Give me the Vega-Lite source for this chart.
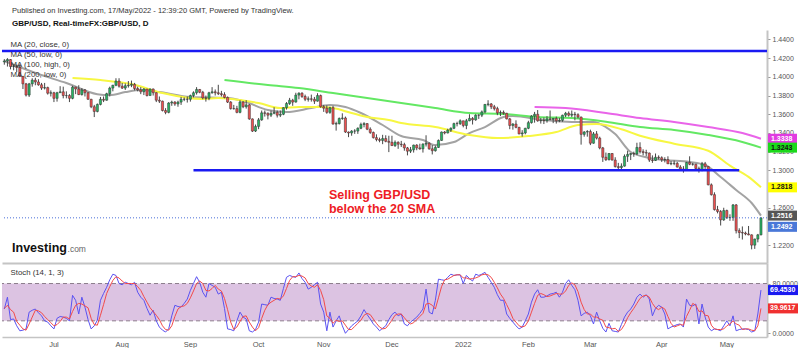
{
"$schema": "https://vega.github.io/schema/vega-lite/v6.json",
"padding": {"top": 6, "left": 0, "right": 0, "bottom": 0},
"background": "white",
"title": {"text": "Published on Investing.com, 17/May/2022 - 12:39:20 GMT, Powered by TradingView.", "subtitle": "GBP/USD, Real-timeFX:GBP/USD, D", "anchor": "start", "frame": "group", "dx": 10, "font": "Liberation Sans", "fontSize": 7.5, "fontWeight": "normal", "color": "#333", "subtitleFont": "Liberation Sans", "subtitleFontSize": 8, "subtitleFontWeight": "bold", "subtitleColor": "#111", "subtitlePadding": 6, "offset": 2},
"config": {"view": {"stroke": null}, "axis": {"labelFont": "Liberation Sans", "labelFontSize": 7, "labelColor": "#555", "grid": false, "title": null, "labelOverlap": false, "labelSeparation": 0, "labelBound": false}, "axisY": {"labelOverlap": false}, "axisQuantitative": {"labelOverlap": false}, "text": {"font": "Liberation Sans"}},
"spacing": 0,
"datasets": {
"px": [
{"d":"2021-06-09","o":1.416,"h":1.419,"l":1.413,"c":1.417,"k":39,"s":40},
{"d":"2021-06-10","o":1.417,"h":1.42,"l":1.411,"c":1.4185,"k":58,"s":45},
{"d":"2021-06-11","o":1.4185,"h":1.419,"l":1.408,"c":1.411,"k":22,"s":38},
{"d":"2021-06-14","o":1.411,"h":1.4135,"l":1.407,"c":1.411,"k":23,"s":34},
{"d":"2021-06-15","o":1.411,"h":1.413,"l":1.405,"c":1.41,"k":12,"s":19},
{"d":"2021-06-16","o":1.41,"h":1.4135,"l":1.4,"c":1.4005,"k":4,"s":13},
{"d":"2021-06-17","o":1.4005,"h":1.401,"l":1.387,"c":1.3925,"k":5,"s":7},
{"d":"2021-06-18","o":1.3925,"h":1.3935,"l":1.379,"c":1.3805,"k":7,"s":5},
{"d":"2021-06-21","o":1.3805,"h":1.3935,"l":1.3785,"c":1.3925,"k":34,"s":15},
{"d":"2021-06-22","o":1.3925,"h":1.3985,"l":1.3895,"c":1.3965,"k":37,"s":26},
{"d":"2021-06-23","o":1.3965,"h":1.399,"l":1.391,"c":1.3945,"k":39,"s":37},
{"d":"2021-06-24","o":1.3945,"h":1.3975,"l":1.3905,"c":1.3915,"k":33,"s":36},
{"d":"2021-06-25","o":1.3915,"h":1.3935,"l":1.386,"c":1.388,"k":28,"s":33},
{"d":"2021-06-28","o":1.388,"h":1.3935,"l":1.3865,"c":1.3885,"k":20,"s":27},
{"d":"2021-06-29","o":1.3885,"h":1.3895,"l":1.381,"c":1.3825,"k":18,"s":22},
{"d":"2021-06-30","o":1.3825,"h":1.3855,"l":1.379,"c":1.383,"k":12,"s":17},
{"d":"2021-07-01","o":1.383,"h":1.384,"l":1.373,"c":1.377,"k":7,"s":12},
{"d":"2021-07-02","o":1.377,"h":1.384,"l":1.3735,"c":1.383,"k":24,"s":14},
{"d":"2021-07-05","o":1.383,"h":1.39,"l":1.383,"c":1.384,"k":27,"s":19},
{"d":"2021-07-06","o":1.384,"h":1.3895,"l":1.377,"c":1.38,"k":26,"s":26},
{"d":"2021-07-07","o":1.38,"h":1.3845,"l":1.377,"c":1.38,"k":24,"s":26},
{"d":"2021-07-08","o":1.38,"h":1.3815,"l":1.373,"c":1.377,"k":20,"s":23},
{"d":"2021-07-09","o":1.377,"h":1.3905,"l":1.376,"c":1.389,"k":61,"s":35},
{"d":"2021-07-12","o":1.389,"h":1.3895,"l":1.3815,"c":1.387,"k":53,"s":45},
{"d":"2021-07-13","o":1.387,"h":1.391,"l":1.3805,"c":1.381,"k":31,"s":48},
{"d":"2021-07-14","o":1.381,"h":1.388,"l":1.38,"c":1.386,"k":58,"s":47},
{"d":"2021-07-15","o":1.386,"h":1.387,"l":1.379,"c":1.383,"k":42,"s":44},
{"d":"2021-07-16","o":1.383,"h":1.3835,"l":1.3755,"c":1.376,"k":22,"s":41},
{"d":"2021-07-19","o":1.376,"h":1.3765,"l":1.3665,"c":1.368,"k":7,"s":24},
{"d":"2021-07-20","o":1.368,"h":1.37,"l":1.357,"c":1.363,"k":12,"s":14},
{"d":"2021-07-21","o":1.363,"h":1.3715,"l":1.362,"c":1.3705,"k":21,"s":13},
{"d":"2021-07-22","o":1.3705,"h":1.3785,"l":1.3695,"c":1.376,"k":53,"s":29},
{"d":"2021-07-23","o":1.376,"h":1.379,"l":1.373,"c":1.375,"k":64,"s":46},
{"d":"2021-07-26","o":1.375,"h":1.383,"l":1.3745,"c":1.382,"k":74,"s":64},
{"d":"2021-07-27","o":1.382,"h":1.3895,"l":1.379,"c":1.388,"k":86,"s":75},
{"d":"2021-07-28","o":1.388,"h":1.3915,"l":1.3845,"c":1.391,"k":95,"s":85},
{"d":"2021-07-29","o":1.391,"h":1.3985,"l":1.39,"c":1.3955,"k":93,"s":91},
{"d":"2021-07-30","o":1.3955,"h":1.3985,"l":1.3885,"c":1.39,"k":80,"s":89},
{"d":"2021-08-02","o":1.39,"h":1.3935,"l":1.387,"c":1.388,"k":78,"s":84},
{"d":"2021-08-03","o":1.388,"h":1.393,"l":1.386,"c":1.3905,"k":82,"s":80},
{"d":"2021-08-04","o":1.3905,"h":1.3955,"l":1.3885,"c":1.391,"k":80,"s":80},
{"d":"2021-08-05","o":1.391,"h":1.396,"l":1.389,"c":1.392,"k":78,"s":80},
{"d":"2021-08-06","o":1.392,"h":1.3935,"l":1.3855,"c":1.3875,"k":82,"s":80},
{"d":"2021-08-09","o":1.3875,"h":1.3895,"l":1.3845,"c":1.386,"k":66,"s":75},
{"d":"2021-08-10","o":1.386,"h":1.389,"l":1.3815,"c":1.384,"k":58,"s":69},
{"d":"2021-08-11","o":1.384,"h":1.388,"l":1.3805,"c":1.387,"k":53,"s":59},
{"d":"2021-08-12","o":1.387,"h":1.387,"l":1.379,"c":1.38,"k":40,"s":50},
{"d":"2021-08-13","o":1.38,"h":1.3875,"l":1.38,"c":1.387,"k":29,"s":41},
{"d":"2021-08-16","o":1.387,"h":1.3875,"l":1.38,"c":1.383,"k":37,"s":35},
{"d":"2021-08-17","o":1.383,"h":1.3835,"l":1.373,"c":1.375,"k":20,"s":29},
{"d":"2021-08-18","o":1.375,"h":1.379,"l":1.372,"c":1.374,"k":10,"s":22},
{"d":"2021-08-19","o":1.374,"h":1.3745,"l":1.363,"c":1.364,"k":5,"s":12},
{"d":"2021-08-20","o":1.364,"h":1.3665,"l":1.36,"c":1.362,"k":2,"s":6},
{"d":"2021-08-23","o":1.362,"h":1.373,"l":1.361,"c":1.372,"k":7,"s":5},
{"d":"2021-08-24","o":1.372,"h":1.3745,"l":1.369,"c":1.373,"k":28,"s":12},
{"d":"2021-08-25","o":1.373,"h":1.374,"l":1.369,"c":1.371,"k":45,"s":27},
{"d":"2021-08-26","o":1.371,"h":1.3745,"l":1.368,"c":1.373,"k":43,"s":39},
{"d":"2021-08-27","o":1.373,"h":1.3785,"l":1.37,"c":1.376,"k":42,"s":43},
{"d":"2021-08-30","o":1.376,"h":1.378,"l":1.374,"c":1.376,"k":48,"s":44},
{"d":"2021-08-31","o":1.376,"h":1.379,"l":1.3725,"c":1.376,"k":55,"s":48},
{"d":"2021-09-01","o":1.376,"h":1.381,"l":1.3735,"c":1.38,"k":69,"s":57},
{"d":"2021-09-02","o":1.38,"h":1.3845,"l":1.378,"c":1.383,"k":80,"s":68},
{"d":"2021-09-03","o":1.383,"h":1.389,"l":1.381,"c":1.3865,"k":91,"s":80},
{"d":"2021-09-06","o":1.3865,"h":1.387,"l":1.3825,"c":1.3835,"k":82,"s":84},
{"d":"2021-09-07","o":1.3835,"h":1.385,"l":1.376,"c":1.3775,"k":66,"s":80},
{"d":"2021-09-08","o":1.3775,"h":1.38,"l":1.3735,"c":1.377,"k":58,"s":69},
{"d":"2021-09-09","o":1.377,"h":1.384,"l":1.375,"c":1.383,"k":80,"s":68},
{"d":"2021-09-10","o":1.383,"h":1.389,"l":1.382,"c":1.384,"k":77,"s":72},
{"d":"2021-09-13","o":1.384,"h":1.3865,"l":1.38,"c":1.383,"k":74,"s":77},
{"d":"2021-09-14","o":1.383,"h":1.3915,"l":1.3805,"c":1.382,"k":63,"s":71},
{"d":"2021-09-15","o":1.382,"h":1.385,"l":1.379,"c":1.381,"k":66,"s":68},
{"d":"2021-09-16","o":1.381,"h":1.3835,"l":1.377,"c":1.378,"k":40,"s":56},
{"d":"2021-09-17","o":1.378,"h":1.379,"l":1.372,"c":1.373,"k":7,"s":38},
{"d":"2021-09-20","o":1.373,"h":1.374,"l":1.365,"c":1.366,"k":6,"s":18},
{"d":"2021-09-21","o":1.366,"h":1.37,"l":1.365,"c":1.366,"k":4,"s":6},
{"d":"2021-09-22","o":1.366,"h":1.369,"l":1.361,"c":1.362,"k":20,"s":10},
{"d":"2021-09-23","o":1.362,"h":1.375,"l":1.361,"c":1.373,"k":34,"s":19},
{"d":"2021-09-24","o":1.373,"h":1.374,"l":1.3665,"c":1.368,"k":26,"s":27},
{"d":"2021-09-27","o":1.368,"h":1.375,"l":1.366,"c":1.37,"k":23,"s":28},
{"d":"2021-09-28","o":1.37,"h":1.371,"l":1.354,"c":1.355,"k":4,"s":18},
{"d":"2021-09-29","o":1.355,"h":1.3555,"l":1.341,"c":1.342,"k":2,"s":10},
{"d":"2021-09-30","o":1.342,"h":1.349,"l":1.341,"c":1.347,"k":6,"s":4},
{"d":"2021-10-01","o":1.347,"h":1.356,"l":1.344,"c":1.354,"k":18,"s":9},
{"d":"2021-10-04","o":1.354,"h":1.364,"l":1.353,"c":1.3615,"k":47,"s":24},
{"d":"2021-10-05","o":1.3615,"h":1.364,"l":1.3575,"c":1.361,"k":46,"s":37},
{"d":"2021-10-06","o":1.361,"h":1.362,"l":1.3545,"c":1.359,"k":45,"s":46},
{"d":"2021-10-07","o":1.359,"h":1.364,"l":1.357,"c":1.361,"k":58,"s":50},
{"d":"2021-10-08","o":1.361,"h":1.3675,"l":1.36,"c":1.362,"k":56,"s":53},
{"d":"2021-10-11","o":1.362,"h":1.364,"l":1.3565,"c":1.359,"k":55,"s":56},
{"d":"2021-10-12","o":1.359,"h":1.364,"l":1.357,"c":1.36,"k":53,"s":55},
{"d":"2021-10-13","o":1.36,"h":1.3675,"l":1.359,"c":1.367,"k":72,"s":60},
{"d":"2021-10-14","o":1.367,"h":1.373,"l":1.365,"c":1.3715,"k":90,"s":72},
{"d":"2021-10-15","o":1.3715,"h":1.3775,"l":1.37,"c":1.375,"k":93,"s":85},
{"d":"2021-10-18","o":1.375,"h":1.3765,"l":1.369,"c":1.373,"k":91,"s":91},
{"d":"2021-10-19","o":1.373,"h":1.383,"l":1.3725,"c":1.3805,"k":90,"s":91},
{"d":"2021-10-20","o":1.3805,"h":1.3835,"l":1.376,"c":1.3825,"k":97,"s":93},
{"d":"2021-10-21","o":1.3825,"h":1.3835,"l":1.3775,"c":1.379,"k":88,"s":92},
{"d":"2021-10-22","o":1.379,"h":1.381,"l":1.374,"c":1.376,"k":82,"s":89},
{"d":"2021-10-25","o":1.376,"h":1.379,"l":1.3735,"c":1.3765,"k":71,"s":80},
{"d":"2021-10-26","o":1.3765,"h":1.381,"l":1.3735,"c":1.376,"k":74,"s":76},
{"d":"2021-10-27","o":1.376,"h":1.3785,"l":1.371,"c":1.374,"k":78,"s":74},
{"d":"2021-10-28","o":1.374,"h":1.3825,"l":1.3735,"c":1.38,"k":82,"s":78},
{"d":"2021-10-29","o":1.38,"h":1.381,"l":1.367,"c":1.368,"k":47,"s":69},
{"d":"2021-11-01","o":1.368,"h":1.37,"l":1.3625,"c":1.3665,"k":34,"s":54},
{"d":"2021-11-02","o":1.3665,"h":1.3695,"l":1.3605,"c":1.362,"k":4,"s":28},
{"d":"2021-11-03","o":1.362,"h":1.368,"l":1.3605,"c":1.367,"k":34,"s":24},
{"d":"2021-11-04","o":1.367,"h":1.369,"l":1.349,"c":1.3495,"k":10,"s":16},
{"d":"2021-11-05","o":1.3495,"h":1.352,"l":1.3425,"c":1.35,"k":20,"s":21},
{"d":"2021-11-08","o":1.35,"h":1.3565,"l":1.349,"c":1.3555,"k":28,"s":19},
{"d":"2021-11-09","o":1.3555,"h":1.361,"l":1.354,"c":1.356,"k":12,"s":20},
{"d":"2021-11-10","o":1.356,"h":1.3575,"l":1.34,"c":1.341,"k":0,"s":13},
{"d":"2021-11-11","o":1.341,"h":1.3415,"l":1.3355,"c":1.34,"k":6,"s":6},
{"d":"2021-11-12","o":1.34,"h":1.343,"l":1.337,"c":1.342,"k":12,"s":6},
{"d":"2021-11-15","o":1.342,"h":1.344,"l":1.339,"c":1.342,"k":16,"s":11},
{"d":"2021-11-16","o":1.342,"h":1.346,"l":1.339,"c":1.345,"k":20,"s":16},
{"d":"2021-11-17","o":1.345,"h":1.351,"l":1.344,"c":1.349,"k":28,"s":21},
{"d":"2021-11-18","o":1.349,"h":1.3515,"l":1.346,"c":1.35,"k":38,"s":29},
{"d":"2021-11-19","o":1.35,"h":1.3505,"l":1.343,"c":1.344,"k":30,"s":32},
{"d":"2021-11-22","o":1.344,"h":1.346,"l":1.339,"c":1.3405,"k":23,"s":30},
{"d":"2021-11-23","o":1.3405,"h":1.3415,"l":1.334,"c":1.335,"k":15,"s":23},
{"d":"2021-11-24","o":1.335,"h":1.3385,"l":1.331,"c":1.333,"k":10,"s":16},
{"d":"2021-11-25","o":1.333,"h":1.335,"l":1.33,"c":1.332,"k":4,"s":10},
{"d":"2021-11-26","o":1.332,"h":1.338,"l":1.328,"c":1.334,"k":8,"s":7},
{"d":"2021-11-29","o":1.334,"h":1.3375,"l":1.33,"c":1.331,"k":12,"s":8},
{"d":"2021-11-30","o":1.331,"h":1.337,"l":1.3195,"c":1.33,"k":22,"s":14},
{"d":"2021-12-01","o":1.33,"h":1.337,"l":1.326,"c":1.3265,"k":30,"s":21},
{"d":"2021-12-02","o":1.3265,"h":1.332,"l":1.325,"c":1.33,"k":34,"s":29},
{"d":"2021-12-03","o":1.33,"h":1.331,"l":1.323,"c":1.328,"k":28,"s":31},
{"d":"2021-12-06","o":1.328,"h":1.3315,"l":1.325,"c":1.3275,"k":31,"s":31},
{"d":"2021-12-07","o":1.3275,"h":1.3295,"l":1.321,"c":1.324,"k":15,"s":25},
{"d":"2021-12-08","o":1.324,"h":1.325,"l":1.316,"c":1.3205,"k":12,"s":19},
{"d":"2021-12-09","o":1.3205,"h":1.325,"l":1.3185,"c":1.322,"k":18,"s":15},
{"d":"2021-12-10","o":1.322,"h":1.3275,"l":1.319,"c":1.327,"k":22,"s":17},
{"d":"2021-12-13","o":1.327,"h":1.328,"l":1.3215,"c":1.324,"k":26,"s":22},
{"d":"2021-12-14","o":1.324,"h":1.3285,"l":1.322,"c":1.323,"k":32,"s":27},
{"d":"2021-12-15","o":1.323,"h":1.329,"l":1.319,"c":1.328,"k":39,"s":32},
{"d":"2021-12-16","o":1.328,"h":1.3375,"l":1.3255,"c":1.329,"k":71,"s":47},
{"d":"2021-12-17","o":1.329,"h":1.33,"l":1.322,"c":1.323,"k":34,"s":48},
{"d":"2021-12-20","o":1.323,"h":1.327,"l":1.317,"c":1.321,"k":31,"s":45},
{"d":"2021-12-21","o":1.321,"h":1.3265,"l":1.32,"c":1.3245,"k":53,"s":39},
{"d":"2021-12-22","o":1.3245,"h":1.333,"l":1.324,"c":1.332,"k":87,"s":57},
{"d":"2021-12-23","o":1.332,"h":1.3415,"l":1.3315,"c":1.341,"k":86,"s":75},
{"d":"2021-12-24","o":1.341,"h":1.342,"l":1.3385,"c":1.34,"k":85,"s":86},
{"d":"2021-12-27","o":1.34,"h":1.3445,"l":1.3395,"c":1.343,"k":90,"s":87},
{"d":"2021-12-28","o":1.343,"h":1.346,"l":1.341,"c":1.345,"k":95,"s":90},
{"d":"2021-12-29","o":1.345,"h":1.351,"l":1.344,"c":1.35,"k":93,"s":93},
{"d":"2021-12-30","o":1.35,"h":1.352,"l":1.347,"c":1.35,"k":94,"s":94},
{"d":"2021-12-31","o":1.35,"h":1.3545,"l":1.3485,"c":1.353,"k":94,"s":94},
{"d":"2022-01-03","o":1.353,"h":1.353,"l":1.346,"c":1.348,"k":80,"s":89},
{"d":"2022-01-04","o":1.348,"h":1.355,"l":1.344,"c":1.353,"k":93,"s":89},
{"d":"2022-01-05","o":1.353,"h":1.36,"l":1.3525,"c":1.3555,"k":88,"s":87},
{"d":"2022-01-06","o":1.3555,"h":1.357,"l":1.349,"c":1.354,"k":84,"s":88},
{"d":"2022-01-07","o":1.354,"h":1.36,"l":1.353,"c":1.359,"k":95,"s":89},
{"d":"2022-01-10","o":1.359,"h":1.36,"l":1.355,"c":1.359,"k":93,"s":91},
{"d":"2022-01-11","o":1.359,"h":1.364,"l":1.357,"c":1.3625,"k":95,"s":94},
{"d":"2022-01-12","o":1.3625,"h":1.371,"l":1.361,"c":1.3705,"k":98,"s":95},
{"d":"2022-01-13","o":1.3705,"h":1.375,"l":1.3685,"c":1.371,"k":90,"s":94},
{"d":"2022-01-14","o":1.371,"h":1.372,"l":1.3655,"c":1.368,"k":82,"s":90},
{"d":"2022-01-17","o":1.368,"h":1.37,"l":1.364,"c":1.366,"k":74,"s":82},
{"d":"2022-01-18","o":1.366,"h":1.368,"l":1.359,"c":1.3615,"k":62,"s":73},
{"d":"2022-01-19","o":1.3615,"h":1.364,"l":1.358,"c":1.362,"k":53,"s":63},
{"d":"2022-01-20","o":1.362,"h":1.364,"l":1.3595,"c":1.361,"k":53,"s":56},
{"d":"2022-01-21","o":1.361,"h":1.3615,"l":1.3545,"c":1.355,"k":31,"s":46},
{"d":"2022-01-24","o":1.355,"h":1.356,"l":1.344,"c":1.348,"k":24,"s":36},
{"d":"2022-01-25","o":1.348,"h":1.3505,"l":1.3435,"c":1.3495,"k":18,"s":24},
{"d":"2022-01-26","o":1.3495,"h":1.3535,"l":1.345,"c":1.346,"k":12,"s":18},
{"d":"2022-01-27","o":1.346,"h":1.3465,"l":1.3385,"c":1.339,"k":7,"s":12},
{"d":"2022-01-28","o":1.339,"h":1.343,"l":1.336,"c":1.34,"k":10,"s":10},
{"d":"2022-01-31","o":1.34,"h":1.3455,"l":1.3385,"c":1.345,"k":20,"s":12},
{"d":"2022-02-01","o":1.345,"h":1.353,"l":1.344,"c":1.351,"k":31,"s":20},
{"d":"2022-02-02","o":1.351,"h":1.359,"l":1.35,"c":1.358,"k":50,"s":34},
{"d":"2022-02-03","o":1.358,"h":1.3625,"l":1.351,"c":1.36,"k":63,"s":48},
{"d":"2022-02-04","o":1.36,"h":1.3645,"l":1.352,"c":1.353,"k":70,"s":61},
{"d":"2022-02-07","o":1.353,"h":1.356,"l":1.35,"c":1.3535,"k":58,"s":64},
{"d":"2022-02-08","o":1.3535,"h":1.3565,"l":1.3495,"c":1.353,"k":58,"s":62},
{"d":"2022-02-09","o":1.353,"h":1.358,"l":1.351,"c":1.355,"k":60,"s":59},
{"d":"2022-02-10","o":1.355,"h":1.364,"l":1.3535,"c":1.3545,"k":63,"s":60},
{"d":"2022-02-11","o":1.3545,"h":1.356,"l":1.3505,"c":1.3555,"k":64,"s":62},
{"d":"2022-02-14","o":1.3555,"h":1.3575,"l":1.35,"c":1.353,"k":66,"s":64},
{"d":"2022-02-15","o":1.353,"h":1.356,"l":1.3515,"c":1.3535,"k":58,"s":63},
{"d":"2022-02-16","o":1.3535,"h":1.3595,"l":1.352,"c":1.359,"k":66,"s":63},
{"d":"2022-02-17","o":1.359,"h":1.3625,"l":1.357,"c":1.361,"k":80,"s":68},
{"d":"2022-02-18","o":1.361,"h":1.363,"l":1.3575,"c":1.359,"k":86,"s":77},
{"d":"2022-02-21","o":1.359,"h":1.364,"l":1.357,"c":1.36,"k":77,"s":81},
{"d":"2022-02-22","o":1.36,"h":1.3625,"l":1.3535,"c":1.3595,"k":70,"s":78},
{"d":"2022-02-23","o":1.3595,"h":1.361,"l":1.3555,"c":1.357,"k":53,"s":67},
{"d":"2022-02-24","o":1.357,"h":1.3575,"l":1.3275,"c":1.3385,"k":28,"s":50},
{"d":"2022-02-25","o":1.3385,"h":1.342,"l":1.336,"c":1.341,"k":32,"s":38},
{"d":"2022-02-28","o":1.341,"h":1.343,"l":1.336,"c":1.3415,"k":34,"s":31},
{"d":"2022-03-01","o":1.3415,"h":1.3435,"l":1.327,"c":1.329,"k":28,"s":31},
{"d":"2022-03-02","o":1.329,"h":1.341,"l":1.3285,"c":1.339,"k":15,"s":26},
{"d":"2022-03-03","o":1.339,"h":1.342,"l":1.333,"c":1.3345,"k":34,"s":26},
{"d":"2022-03-04","o":1.3345,"h":1.336,"l":1.3225,"c":1.324,"k":20,"s":23},
{"d":"2022-03-07","o":1.324,"h":1.325,"l":1.309,"c":1.314,"k":8,"s":21},
{"d":"2022-03-08","o":1.314,"h":1.319,"l":1.31,"c":1.3115,"k":2,"s":10},
{"d":"2022-03-09","o":1.3115,"h":1.3185,"l":1.3105,"c":1.318,"k":16,"s":9},
{"d":"2022-03-10","o":1.318,"h":1.3185,"l":1.3105,"c":1.311,"k":4,"s":7},
{"d":"2022-03-11","o":1.311,"h":1.314,"l":1.303,"c":1.304,"k":3,"s":8},
{"d":"2022-03-14","o":1.304,"h":1.308,"l":1.3,"c":1.303,"k":2,"s":3},
{"d":"2022-03-15","o":1.303,"h":1.3075,"l":1.3,"c":1.3045,"k":14,"s":6},
{"d":"2022-03-16","o":1.3045,"h":1.317,"l":1.304,"c":1.315,"k":26,"s":14},
{"d":"2022-03-17","o":1.315,"h":1.321,"l":1.309,"c":1.317,"k":34,"s":25},
{"d":"2022-03-18","o":1.317,"h":1.3185,"l":1.311,"c":1.318,"k":39,"s":33},
{"d":"2022-03-21","o":1.318,"h":1.32,"l":1.3145,"c":1.3175,"k":47,"s":40},
{"d":"2022-03-22","o":1.3175,"h":1.3295,"l":1.3165,"c":1.3245,"k":58,"s":48},
{"d":"2022-03-23","o":1.3245,"h":1.33,"l":1.318,"c":1.32,"k":63,"s":56},
{"d":"2022-03-24","o":1.32,"h":1.3225,"l":1.316,"c":1.319,"k":58,"s":60},
{"d":"2022-03-25","o":1.319,"h":1.322,"l":1.315,"c":1.3185,"k":62,"s":61},
{"d":"2022-03-28","o":1.3185,"h":1.319,"l":1.309,"c":1.311,"k":55,"s":58},
{"d":"2022-03-29","o":1.311,"h":1.316,"l":1.308,"c":1.3105,"k":28,"s":48},
{"d":"2022-03-30","o":1.3105,"h":1.318,"l":1.31,"c":1.314,"k":40,"s":41},
{"d":"2022-03-31","o":1.314,"h":1.316,"l":1.3115,"c":1.3135,"k":45,"s":38},
{"d":"2022-04-01","o":1.3135,"h":1.315,"l":1.309,"c":1.3115,"k":42,"s":42},
{"d":"2022-04-04","o":1.3115,"h":1.314,"l":1.3085,"c":1.3115,"k":31,"s":39},
{"d":"2022-04-05","o":1.3115,"h":1.315,"l":1.307,"c":1.307,"k":7,"s":27},
{"d":"2022-04-06","o":1.307,"h":1.31,"l":1.3055,"c":1.3075,"k":10,"s":16},
{"d":"2022-04-07","o":1.3075,"h":1.3105,"l":1.3055,"c":1.3075,"k":12,"s":10},
{"d":"2022-04-08","o":1.3075,"h":1.309,"l":1.303,"c":1.3035,"k":14,"s":12},
{"d":"2022-04-11","o":1.3035,"h":1.3055,"l":1.3,"c":1.3015,"k":15,"s":14},
{"d":"2022-04-12","o":1.3015,"h":1.3045,"l":1.2975,"c":1.3005,"k":10,"s":13},
{"d":"2022-04-13","o":1.3005,"h":1.309,"l":1.3,"c":1.3085,"k":55,"s":27},
{"d":"2022-04-14","o":1.3085,"h":1.315,"l":1.3055,"c":1.3065,"k":45,"s":37},
{"d":"2022-04-15","o":1.3065,"h":1.308,"l":1.305,"c":1.3065,"k":44,"s":48},
{"d":"2022-04-18","o":1.3065,"h":1.307,"l":1.3005,"c":1.302,"k":47,"s":45},
{"d":"2022-04-19","o":1.302,"h":1.304,"l":1.2975,"c":1.3,"k":15,"s":35},
{"d":"2022-04-20","o":1.3,"h":1.309,"l":1.299,"c":1.307,"k":47,"s":36},
{"d":"2022-04-21","o":1.307,"h":1.309,"l":1.3,"c":1.304,"k":26,"s":29},
{"d":"2022-04-22","o":1.304,"h":1.3045,"l":1.284,"c":1.2845,"k":10,"s":28},
{"d":"2022-04-25","o":1.2845,"h":1.286,"l":1.273,"c":1.274,"k":4,"s":13},
{"d":"2022-04-26","o":1.274,"h":1.2765,"l":1.257,"c":1.258,"k":7,"s":7},
{"d":"2022-04-27","o":1.258,"h":1.262,"l":1.254,"c":1.256,"k":6,"s":6},
{"d":"2022-04-28","o":1.256,"h":1.2575,"l":1.241,"c":1.247,"k":4,"s":6},
{"d":"2022-04-29","o":1.247,"h":1.26,"l":1.246,"c":1.257,"k":12,"s":7},
{"d":"2022-05-02","o":1.257,"h":1.258,"l":1.248,"c":1.2495,"k":20,"s":12},
{"d":"2022-05-03","o":1.2495,"h":1.253,"l":1.246,"c":1.2495,"k":12,"s":15},
{"d":"2022-05-04","o":1.2495,"h":1.264,"l":1.246,"c":1.263,"k":28,"s":20},
{"d":"2022-05-05","o":1.263,"h":1.264,"l":1.2325,"c":1.2355,"k":4,"s":15},
{"d":"2022-05-06","o":1.2355,"h":1.238,"l":1.2275,"c":1.2335,"k":6,"s":13},
{"d":"2022-05-09","o":1.2335,"h":1.24,"l":1.226,"c":1.233,"k":7,"s":6},
{"d":"2022-05-10","o":1.233,"h":1.2345,"l":1.2305,"c":1.232,"k":7,"s":7},
{"d":"2022-05-11","o":1.232,"h":1.2405,"l":1.2305,"c":1.231,"k":6,"s":7},
{"d":"2022-05-12","o":1.231,"h":1.2315,"l":1.2155,"c":1.22,"k":2,"s":5},
{"d":"2022-05-13","o":1.22,"h":1.227,"l":1.216,"c":1.2265,"k":4,"s":4},
{"d":"2022-05-16","o":1.2265,"h":1.232,"l":1.223,"c":1.231,"k":31,"s":12},
{"d":"2022-05-17","o":1.231,"h":1.2495,"l":1.2305,"c":1.2492,"k":69.453,"s":39.9617}
],
"ma": [
{"d":"2021-06-09","m":"MA20","v":1.4169},{"d":"2021-06-24","m":"MA20","v":1.403},{"d":"2021-07-07","m":"MA20","v":1.3934},{"d":"2021-07-21","m":"MA20","v":1.3815},{"d":"2021-07-27","m":"MA20","v":1.3805},{"d":"2021-08-03","m":"MA20","v":1.3837},{"d":"2021-08-10","m":"MA20","v":1.3859},{"d":"2021-08-18","m":"MA20","v":1.3837},{"d":"2021-09-01","m":"MA20","v":1.3784},{"d":"2021-09-17","m":"MA20","v":1.3773},{"d":"2021-09-24","m":"MA20","v":1.3741},{"d":"2021-10-06","m":"MA20","v":1.3645},{"d":"2021-10-14","m":"MA20","v":1.3624},{"d":"2021-10-26","m":"MA20","v":1.3666},{"d":"2021-11-03","m":"MA20","v":1.3698},{"d":"2021-11-10","m":"MA20","v":1.3677},{"d":"2021-11-17","m":"MA20","v":1.3613},{"d":"2021-11-26","m":"MA20","v":1.3485},{"d":"2021-12-06","m":"MA20","v":1.3367},{"d":"2021-12-15","m":"MA20","v":1.3324},{"d":"2021-12-21","m":"MA20","v":1.3271},{"d":"2021-12-29","m":"MA20","v":1.3303},{"d":"2022-01-05","m":"MA20","v":1.3399},{"d":"2022-01-12","m":"MA20","v":1.3463},{"d":"2022-01-20","m":"MA20","v":1.357},{"d":"2022-01-25","m":"MA20","v":1.3581},{"d":"2022-02-08","m":"MA20","v":1.3538},{"d":"2022-02-21","m":"MA20","v":1.3517},{"d":"2022-03-02","m":"MA20","v":1.3517},{"d":"2022-03-08","m":"MA20","v":1.3463},{"d":"2022-03-11","m":"MA20","v":1.3388},{"d":"2022-03-18","m":"MA20","v":1.3196},{"d":"2022-03-28","m":"MA20","v":1.3132},{"d":"2022-04-04","m":"MA20","v":1.311},{"d":"2022-04-14","m":"MA20","v":1.3089},{"d":"2022-04-21","m":"MA20","v":1.3057},{"d":"2022-04-28","m":"MA20","v":1.2929},{"d":"2022-05-05","m":"MA20","v":1.279},{"d":"2022-05-12","m":"MA20","v":1.2651},{"d":"2022-05-17","m":"MA20","v":1.2516},
{"d":"2021-07-09","m":"MA50","v":1.3987},{"d":"2021-07-22","m":"MA50","v":1.3966},{"d":"2021-08-05","m":"MA50","v":1.3923},{"d":"2021-08-19","m":"MA50","v":1.3827},{"d":"2021-09-07","m":"MA50","v":1.3763},{"d":"2021-09-14","m":"MA50","v":1.3773},{"d":"2021-09-23","m":"MA50","v":1.3752},{"d":"2021-10-01","m":"MA50","v":1.372},{"d":"2021-10-12","m":"MA50","v":1.3666},{"d":"2021-10-20","m":"MA50","v":1.3677},{"d":"2021-10-29","m":"MA50","v":1.3677},{"d":"2021-11-04","m":"MA50","v":1.3666},{"d":"2021-11-12","m":"MA50","v":1.3613},{"d":"2021-11-19","m":"MA50","v":1.357},{"d":"2021-11-30","m":"MA50","v":1.3538},{"d":"2021-12-06","m":"MA50","v":1.3506},{"d":"2021-12-21","m":"MA50","v":1.3463},{"d":"2022-01-05","m":"MA50","v":1.3378},{"d":"2022-01-18","m":"MA50","v":1.3345},{"d":"2022-02-01","m":"MA50","v":1.3367},{"d":"2022-02-14","m":"MA50","v":1.341},{"d":"2022-02-23","m":"MA50","v":1.3484},{"d":"2022-03-03","m":"MA50","v":1.3495},{"d":"2022-03-15","m":"MA50","v":1.344},{"d":"2022-03-23","m":"MA50","v":1.337},{"d":"2022-04-07","m":"MA50","v":1.3285},{"d":"2022-04-22","m":"MA50","v":1.321},{"d":"2022-05-03","m":"MA50","v":1.305},{"d":"2022-05-11","m":"MA50","v":1.293},{"d":"2022-05-17","m":"MA50","v":1.2818},
{"d":"2021-09-16","m":"MA100","v":1.3966},{"d":"2021-10-06","m":"MA100","v":1.3912},{"d":"2021-10-20","m":"MA100","v":1.388},{"d":"2021-11-04","m":"MA100","v":1.3827},{"d":"2021-11-19","m":"MA100","v":1.3773},{"d":"2021-12-06","m":"MA100","v":1.372},{"d":"2021-12-21","m":"MA100","v":1.3666},{"d":"2022-01-05","m":"MA100","v":1.3613},{"d":"2022-01-20","m":"MA100","v":1.3602},{"d":"2022-02-04","m":"MA100","v":1.357},{"d":"2022-02-21","m":"MA100","v":1.3559},{"d":"2022-03-08","m":"MA100","v":1.352},{"d":"2022-03-23","m":"MA100","v":1.3463},{"d":"2022-04-07","m":"MA100","v":1.3431},{"d":"2022-04-22","m":"MA100","v":1.3378},{"d":"2022-05-09","m":"MA100","v":1.3303},{"d":"2022-05-17","m":"MA100","v":1.3243},
{"d":"2022-02-03","m":"MA200","v":1.3677},{"d":"2022-02-17","m":"MA200","v":1.3666},{"d":"2022-03-08","m":"MA200","v":1.3613},{"d":"2022-03-23","m":"MA200","v":1.3559},{"d":"2022-04-07","m":"MA200","v":1.3517},{"d":"2022-04-22","m":"MA200","v":1.3463},{"d":"2022-05-09","m":"MA200","v":1.3399},{"d":"2022-05-17","m":"MA200","v":1.3338}
]
},
"data": {"name": "px"},
"vconcat": [
{
"width": 765, "height": 233,
"resolve": {"scale": {"color": "independent"}},
"layer": [
{"data": {"name": "ma"}, "mark": {"type": "line", "interpolate": "monotone", "strokeWidth": 2}, "encoding": {
  "x": {"field": "d", "type": "ordinal", "scale": {"type": "band", "paddingInner": 0.3, "paddingOuter": 3.3, "align": 0.2}, "axis": {"labels": false, "ticks": false, "domain": true, "domainColor": "#c4c4c4", "domainWidth": 2, "title": null}},
  "y": {"field": "v", "type": "quantitative", "scale": {"domain": [1.2009, 1.4501], "nice": false, "zero": false}, "axis": {"orient": "right", "tickCount": 13, "format": ".4f", "domainColor": "#c4c4c4", "domainWidth": 2, "tickColor": "#999", "tickSize": 3, "labelPadding": 2, "labelOverlap": false, "labelSeparation": 0, "title": null}},
  "color": {"field": "m", "type": "nominal", "scale": {"domain": ["MA20", "MA50", "MA100", "MA200"], "range": ["#a3a3a3", "#f7f742", "#63e863", "#e964e9"]}, "legend": null}}},
{"mark": {"type": "rule", "color": "#474747", "strokeWidth": 1}, "encoding": {"x": {"field": "d", "type": "ordinal"}, "y": {"field": "l", "type": "quantitative"}, "y2": {"field": "h"}}},
{"mark": {"type": "bar", "stroke": "#333", "strokeWidth": 0.5}, "encoding": {"x": {"field": "d", "type": "ordinal"}, "y": {"field": "o", "type": "quantitative"}, "y2": {"field": "c"}, "fill": {"condition": {"test": "datum.c >= datum.o", "value": "#27b462"}, "value": "#ee5050"}}},
{"data": {"values": [{"v": 1.4276}]}, "mark": {"type": "rule", "color": "#1a1af2", "strokeWidth": 2.5}, "encoding": {"y": {"field": "v", "type": "quantitative"}}},
{"data": {"values": [{"a": "2021-09-02", "b": "2022-05-06", "v": 1.3}]}, "mark": {"type": "rule", "color": "#1a1af2", "strokeWidth": 2.5}, "encoding": {"x": {"field": "a", "type": "ordinal"}, "x2": {"field": "b"}, "y": {"field": "v", "type": "quantitative"}}},
{"data": {"values": [{"v": 1.2492}]}, "mark": {"type": "rule", "color": "#4a6fd8", "strokeWidth": 1, "strokeDash": [1, 2]}, "encoding": {"y": {"field": "v", "type": "quantitative"}}},
{"data": {"values": [{"a": "2021-11-03", "v": 1.2693}]}, "mark": {"type": "text", "text": ["Selling GBP/USD", "below the 20 SMA"], "align": "left", "baseline": "alphabetic", "fontSize": 12.5, "fontWeight": "bold", "color": "#ee1c25", "lineHeight": 13.7, "dx": -1}, "encoding": {"x": {"field": "a", "type": "ordinal"}, "y": {"field": "v", "type": "quantitative"}}},
{"data": {"values": [{"a": "2021-06-11", "v": 1.4386}]}, "mark": {"type": "text", "text": ["MA (20, close, 0)", "MA (50, low, 0)", "MA (100, high, 0)", "MA (200, low, 0)"], "align": "left", "baseline": "top", "fontSize": 7.8, "lineHeight": 10.2, "color": "#333"}, "encoding": {"x": {"field": "a", "type": "ordinal"}, "y": {"field": "v", "type": "quantitative"}}},
{"data": {"values": [{"a": "2021-06-11", "v": 1.2129}]}, "mark": {"type": "text", "text": "Investing", "align": "left", "baseline": "alphabetic", "fontSize": 12.5, "fontWeight": "bold", "color": "#111", "dx": 1.5}, "encoding": {"x": {"field": "a", "type": "ordinal"}, "y": {"field": "v", "type": "quantitative"}}},
{"data": {"values": [{"a": "2021-06-11", "v": 1.2129}]}, "mark": {"type": "text", "text": ".com", "align": "left", "baseline": "alphabetic", "fontSize": 8.5, "color": "#666", "dx": 57}, "encoding": {"x": {"field": "a", "type": "ordinal"}, "y": {"field": "v", "type": "quantitative"}}},
{"data": {"values": [{"t": "MA200", "v": 1.3338}, {"t": "MA100", "v": 1.3243}, {"t": "MA50", "v": 1.2818}, {"t": "MA20", "v": 1.2516}]},
 "layer": [
  {"mark": {"type": "rule", "strokeWidth": 10, "xOffset": 1, "x2Offset": 30}, "encoding": {"x": {"value": "width"}, "x2": {"value": "width"}, "y": {"field": "v", "type": "quantitative"}, "y2": {"field": "v"}, "color": {"field": "t", "type": "nominal", "scale": {"domain": ["MA200", "MA100", "MA50", "MA20"], "range": ["#e13be1", "#1bd91b", "#ffff00", "#555555"]}, "legend": null}}},
  {"mark": {"type": "text", "align": "left", "baseline": "middle", "dx": 4, "fontSize": 7, "fontWeight": "bold"}, "encoding": {"x": {"value": "width"}, "y": {"field": "v", "type": "quantitative"}, "text": {"field": "v", "type": "quantitative", "format": ".4f"}, "color": {"condition": {"test": "datum.t == 'MA100' || datum.t == 'MA50'", "value": "#111"}, "value": "white"}}}
 ]},
{"data": {"values": [{"v": 1.2492}]},
 "layer": [
  {"mark": {"type": "rule", "strokeWidth": 10, "xOffset": 1, "x2Offset": 30, "yOffset": 9, "y2Offset": 9, "color": "#4a78d8"}, "encoding": {"x": {"value": "width"}, "x2": {"value": "width"}, "y": {"field": "v", "type": "quantitative"}, "y2": {"field": "v"}}},
  {"mark": {"type": "text", "align": "left", "baseline": "middle", "dx": 4, "dy": 9, "fontSize": 7, "fontWeight": "bold", "color": "white"}, "encoding": {"x": {"value": "width"}, "y": {"field": "v", "type": "quantitative"}, "text": {"field": "v", "type": "quantitative", "format": ".4f"}}}
 ]}
]
},
{
"width": 765, "height": 74,
"layer": [
{"data": {"values": [{"a": 20, "b": 80}]}, "mark": {"type": "rect", "color": "#dcc3e2"}, "encoding": {"x": {"value": 0}, "x2": {"value": "width"}, "y": {"field": "a", "type": "quantitative", "scale": {"domain": [-6, 113], "nice": false, "zero": false}, "axis": {"orient": "right", "values": [0, 80], "format": ".4f", "domainColor": "#c4c4c4", "domainWidth": 2, "tickColor": "#999", "tickSize": 3, "labelPadding": 2, "title": null}}, "y2": {"field": "b"}}},
{"data": {"values": [{"v": 20}, {"v": 80}]}, "mark": {"type": "rule", "color": "#8c7d8c", "strokeDash": [4, 3], "strokeWidth": 1}, "encoding": {"y": {"field": "v", "type": "quantitative"}}},
{"mark": {"type": "line", "color": "#5a52f2", "strokeWidth": 1}, "encoding": {
  "x": {"field": "d", "type": "ordinal", "scale": {"type": "band", "paddingInner": 0.3, "paddingOuter": 3.3, "align": 0.2}, "axis": {"values": ["2021-07-01", "2021-08-02", "2021-09-01", "2021-10-01", "2021-11-01", "2021-12-01", "2022-01-03", "2022-02-01", "2022-03-01", "2022-04-01", "2022-05-02"], "labelExpr": "datum.value == '2022-01-03' ? '2022' : utcFormat(toDate(datum.value), '%b')", "labelAngle": 0, "labelFontSize": 7.5, "labelPadding": 3, "ticks": false, "domain": true, "domainColor": "#c4c4c4", "domainWidth": 1.5, "title": null}},
  "y": {"field": "k", "type": "quantitative"}}},
{"mark": {"type": "line", "color": "#f24a4a", "strokeWidth": 1}, "encoding": {"x": {"field": "d", "type": "ordinal"}, "y": {"field": "s", "type": "quantitative"}}},
{"data": {"values": [{"a": "2021-06-11", "v": 97}]}, "mark": {"type": "text", "text": "Stoch (14, 1, 3)", "align": "left", "baseline": "middle", "fontSize": 7.8, "color": "#333"}, "encoding": {"x": {"field": "a", "type": "ordinal"}, "y": {"field": "v", "type": "quantitative"}}},
{"data": {"values": [{"t": "K", "v": 69.453}, {"t": "D", "v": 39.9617}]},
 "layer": [
  {"mark": {"type": "rule", "strokeWidth": 10, "xOffset": 1, "x2Offset": 31}, "encoding": {"x": {"value": "width"}, "x2": {"value": "width"}, "y": {"field": "v", "type": "quantitative"}, "y2": {"field": "v"}, "color": {"field": "t", "type": "nominal", "scale": {"domain": ["K", "D"], "range": ["#1a1af0", "#f03030"]}, "legend": null}}},
  {"mark": {"type": "text", "align": "left", "baseline": "middle", "dx": 3, "fontSize": 7, "fontWeight": "bold", "color": "white"}, "encoding": {"x": {"value": "width"}, "y": {"field": "v", "type": "quantitative"}, "text": {"field": "v", "type": "quantitative", "format": ".4f"}}}
 ]}
]
}
]
}
